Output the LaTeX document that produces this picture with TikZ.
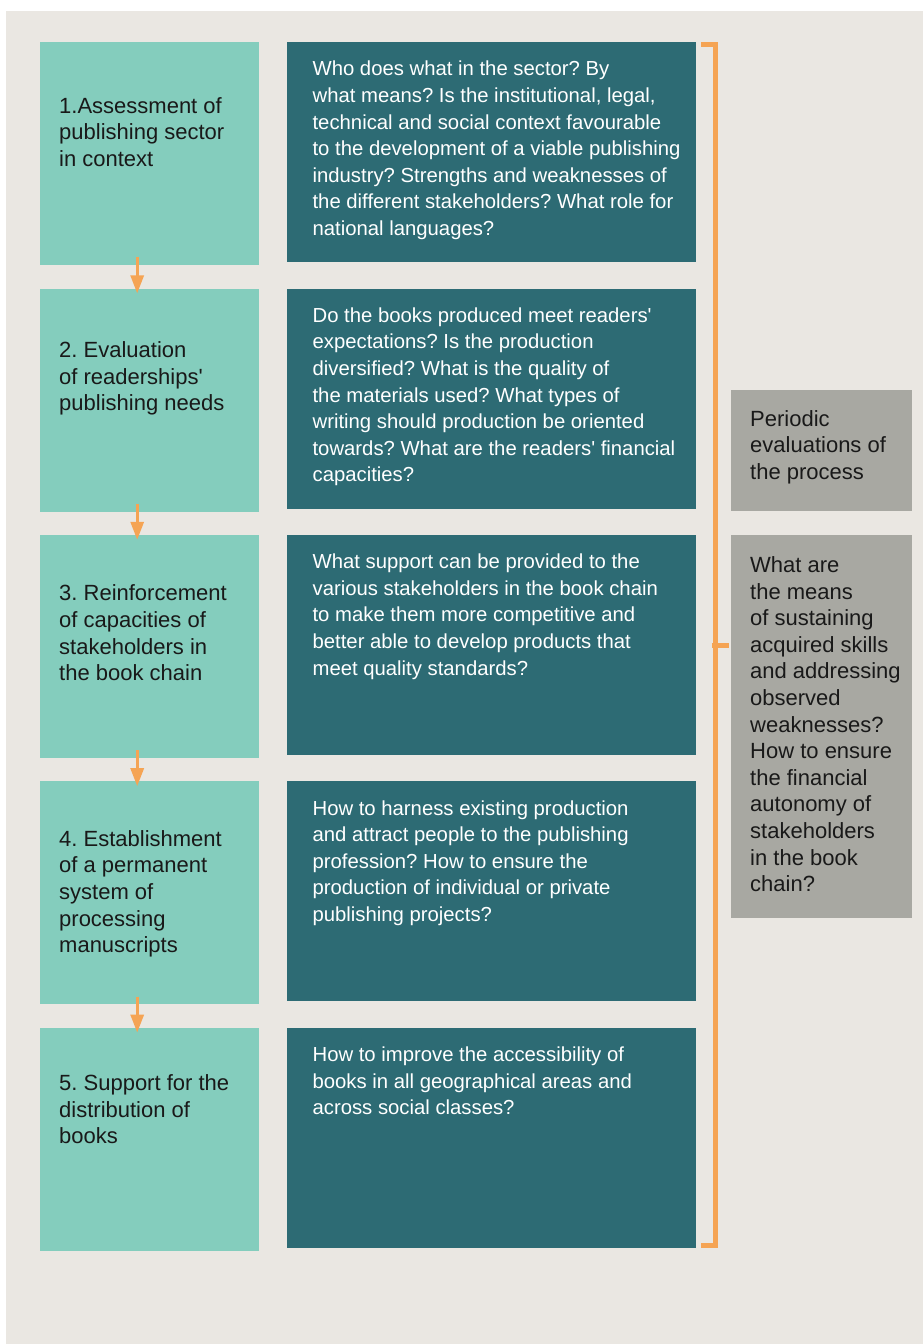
\documentclass[tikz,border=0pt]{standalone}
\usepackage{fontspec}
\setmainfont{Liberation Sans}
\usetikzlibrary{calc,positioning,arrows.meta}
\definecolor{paper}{HTML}{EAE7E2}
\definecolor{mint}{HTML}{84CDBD}
\definecolor{petrol}{HTML}{2D6B74}
\definecolor{stone}{HTML}{A8A8A2}
\definecolor{amber}{HTML}{F5A454}
\newcommand{\apos}{\textquotesingle}
\frenchspacing
\tikzset{
  >={Triangle[length=18pt,width=13pt]},
  stepbox/.style={fill=mint,minimum width=219pt,minimum height=223pt,inner sep=0pt,anchor=north west},
  askbox/.style={fill=petrol,minimum width=409pt,minimum height=220pt,inner sep=0pt},
  evalbox/.style={fill=stone,minimum width=181pt,inner sep=0pt,anchor=north west},
  steptext/.style={anchor=north west,inner sep=0pt,align=left,text=black!90,
    font=\fontsize{22}{26.6}\selectfont},
  asktext/.style={anchor=north west,inner sep=0pt,align=left,text=white,
    font=\fontsize{20.3}{26.6}\selectfont},
  flow/.style={->,amber,line width=3pt},
  bracket/.style={amber,line width=5pt,line join=miter},
}

\begin{document}
\begin{tikzpicture}[x=1pt,y=-1pt]
  \useasboundingbox (0,0) rectangle (923,1344);
  \fill[paper] (6,11) rectangle (923,1344);

  % steps
  \node[stepbox] (s1) at (40,42) {};
  \node[stepbox,below=23pt of s1] (s2) {};
  \node[stepbox,below=23pt of s2] (s3) {};
  \node[stepbox,below=23pt of s3] (s4) {};
  \node[stepbox,below=23pt of s4] (s5) {};
  \node[steptext,below right=55pt and 19pt of s1.north west] (s1t)
    {1.Assessment of\\publishing sector\\in context};
  \node[steptext,below right=53pt and 19pt of s2.north west] (s2t)
    {2. Evaluation\\of readerships\apos\\publishing needs};
  \node[steptext,below right=50pt and 19pt of s3.north west] (s3t)
    {3. Reinforcement\\of capacities of\\stakeholders in\\the book chain};
  \node[steptext,below right=49pt and 19pt of s4.north west] (s4t)
    {4. Establishment\\of a permanent\\system of\\processing\\manuscripts};
  \node[steptext,below right=47pt and 19pt of s5.north west] (s5t)
    {5. Support for the\\distribution of\\books};

  % questions
  \node[askbox,right=27pt of s1.north east,anchor=north west] (q1) {};
  \node[askbox,right=27pt of s2.north east,anchor=north west] (q2) {};
  \node[askbox,right=27pt of s3.north east,anchor=north west] (q3) {};
  \node[askbox,right=27pt of s4.north east,anchor=north west] (q4) {};
  \node[askbox,right=27pt of s5.north east,anchor=north west] (q5) {};
  \node[asktext,below right=19pt and 26pt of q1.north west] (q1t)
    {Who does what in the sector? By\\what means? Is the institutional, legal,\\technical and social context favourable\\to the development of a viable publishing\\industry? Strengths and weaknesses of\\the different stakeholders? What role for\\national languages?};
  \node[asktext,below right=19pt and 26pt of q2.north west] (q2t)
    {Do the books produced meet readers\apos\\expectations? Is the production\\diversified? What is the quality of\\the materials used? What types of\\writing should production be oriented\\towards? What are the readers\apos{} financial\\capacities?};
  \node[asktext,below right=19pt and 26pt of q3.north west] (q3t)
    {What support can be provided to the\\various stakeholders in the book chain\\to make them more competitive and\\better able to develop products that\\meet quality standards?};
  \node[asktext,below right=19pt and 26pt of q4.north west] (q4t)
    {How to harness existing production\\and attract people to the publishing\\profession? How to ensure the\\production of individual or private\\publishing projects?};
  \node[asktext,below right=19pt and 26pt of q5.north west] (q5t)
    {How to improve the accessibility of\\books in all geographical areas and\\across social classes?};

  % evaluation side
  \node[evalbox,minimum height=121pt] (eval) at (731,390) {};
  \node[evalbox,minimum height=383pt,below=23pt of eval] (means) {};
  \node[steptext,below right=20pt and 19pt of eval.north west] (evalt)
    {Periodic\\evaluations of\\the process};
  \node[steptext,below right=22pt and 19pt of means.north west] (meanst)
    {What are\\the means\\of sustaining\\acquired skills\\and addressing\\observed\\weaknesses?\\How to ensure\\the financial\\autonomy of\\stakeholders\\in the book\\chain?};

  % arrows and bracket
  \foreach \a/\b in {s1/s2,s2/s3,s3/s4,s4/s5}
    \draw[flow] ([shift={(-12.5pt,8pt)}]\a.south) -- ([shift={(-12.5pt,-5pt)}]\b.north);
  \draw[bracket] ([shift={(5pt,-2.5pt)}]q1.north east)
    -| ([shift={(19.5pt,2.5pt)}]q5.south east) -- ([shift={(5pt,2.5pt)}]q5.south east);
  \coordinate (mid) at ($(q1.north east)!0.5!(q5.south east)$);
  \draw[bracket,shorten >=2pt] ([xshift=16pt]mid) -- (means.west |- mid);
\end{tikzpicture}
\end{document}
